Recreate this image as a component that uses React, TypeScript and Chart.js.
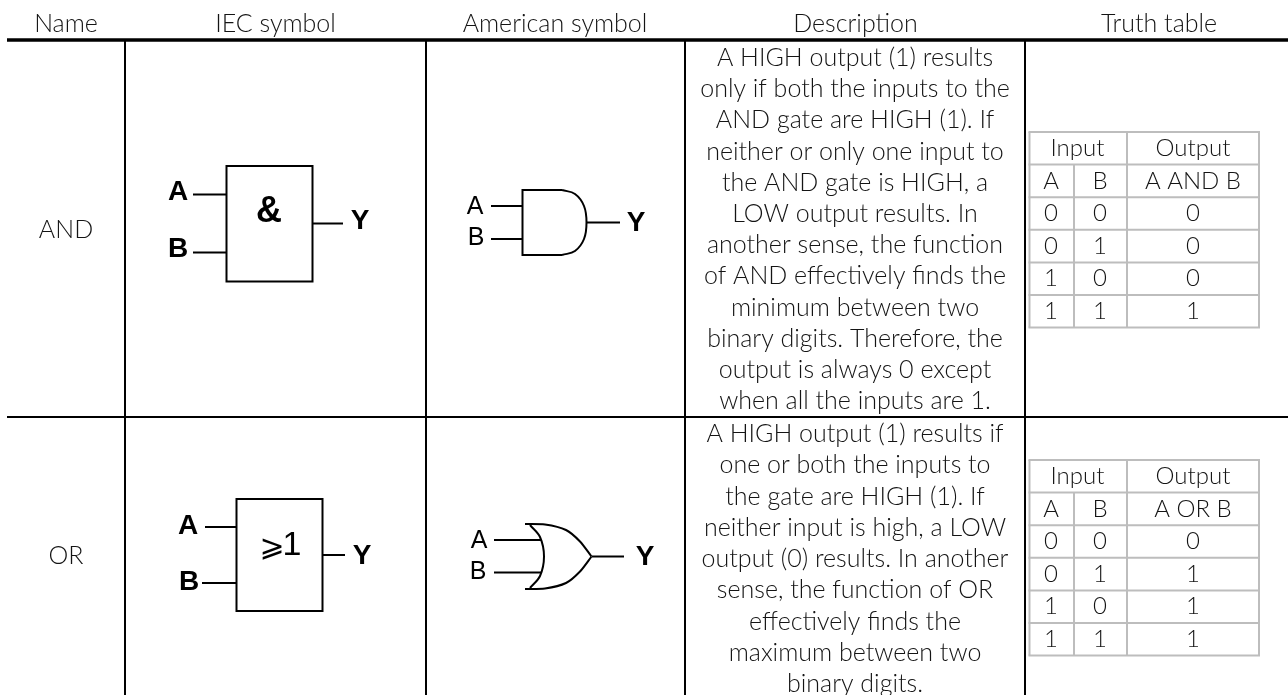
import React, { useEffect, useRef } from "react";
import { Chart, registerables } from "chart.js";

Chart.register(...registerables);

const columnNames = ["Name", "IEC symbol", "American symbol", "Description", "Truth table"];
const gateNames = ["AND", "OR"];
const andDescription = [
  "A HIGH output (1) results",
  "only if both the inputs to the",
  "AND gate are HIGH (1). If",
  "neither or only one input to",
  "the AND gate is HIGH, a",
  "LOW output results. In",
  "another sense, the function",
  "of AND effectively finds the",
  "minimum between two",
  "binary digits. Therefore, the",
  "output is always 0 except",
  "when all the inputs are 1.",
];
const orDescription = [
  "A HIGH output (1) results if",
  "one or both the inputs to",
  "the gate are HIGH (1). If",
  "neither input is high, a LOW",
  "output (0) results. In another",
  "sense, the function of OR",
  "effectively finds the",
  "maximum between two",
  "binary digits.",
];
const inputA = ["0", "0", "1", "1"];
const inputB = ["0", "1", "0", "1"];
const andOutput = ["0", "0", "0", "1"];
const orOutput = ["0", "1", "1", "1"];

const BODY = "Lato";
const INK = "#141414";

type P = { x: number; y: number };
const pts = (...c: number[]): P[] => {
  const out: P[] = [];
  for (let i = 0; i < c.length; i += 2) out.push({ x: c[i], y: c[i + 1] });
  return out;
};
const stroke = (data: P[], color: string, width: number, tension = 0) => ({
  data,
  showLine: true,
  borderColor: color,
  borderWidth: width,
  tension,
  pointRadius: 0,
  borderCapStyle: "butt",
  borderJoinStyle: "miter",
});

const grid = (top: number) => {
  const l = 1029.5, r = 1259, a = 1074, b = 1127, c = "#bdbdbd";
  const rows = [0, 1, 2, 3, 4, 5, 6].map((i) => top + i * 32.6);
  const end = rows[rows.length - 1];
  return [
    ...rows.map((y) => stroke(pts(l - 1, y, r + 1, y), c, 2)),
    stroke(pts(l, top, l, end), c, 2),
    stroke(pts(r, top, r, end), c, 2),
    stroke(pts(b, top, b, end), c, 2),
    stroke(pts(a, rows[1], a, end), c, 2),
  ];
};

const K = "#000";
const datasets = [
  stroke(pts(7, 40, 1288, 40), K, 3.5),
  stroke(pts(7, 417, 1288, 417), K, 2),
  stroke(pts(125, 40, 125, 695), K, 2),
  stroke(pts(426, 40, 426, 695), K, 2),
  stroke(pts(685, 40, 685, 695), K, 2),
  stroke(pts(1025, 40, 1025, 695), K, 2),
  // IEC AND
  stroke(pts(226.5, 166, 312.5, 166, 312.5, 281.5, 226.5, 281.5, 226.5, 165), K, 2),
  stroke(pts(193, 194.5, 226, 194.5), K, 2),
  stroke(pts(193, 252.5, 226, 252.5), K, 2),
  stroke(pts(313, 223.5, 343, 223.5), K, 2),
  // American AND
  stroke(pts(562, 190, 522.5, 190, 522.5, 255, 562, 255), K, 2),
  stroke(pts(562, 190, 575, 194, 584, 206, 586.5, 222.5, 584, 239, 575, 251, 562, 255), K, 2, 0.4),
  stroke(pts(491, 206, 522, 206), K, 2),
  stroke(pts(491, 239, 522, 239), K, 2),
  stroke(pts(587, 222.5, 620, 222.5), K, 2),
  // IEC OR
  stroke(pts(236.5, 499, 322.5, 499, 322.5, 611, 236.5, 611, 236.5, 498), K, 2),
  stroke(pts(205, 527, 236, 527), K, 2),
  stroke(pts(202, 583, 236, 583), K, 2),
  stroke(pts(323, 555, 345, 555), K, 2),
  // American OR
  stroke(pts(525, 524, 545, 524.5, 566, 530, 580, 541.5, 591.5, 556.5), K, 2, 0.25),
  stroke(pts(591.5, 556.5, 580, 571.5, 566, 583, 545, 588.5, 525, 589), K, 2, 0.25),
  stroke(pts(530, 525, 540, 537, 544, 556.5, 540, 576, 530, 588), K, 2, 0.35),
  stroke(pts(494, 540, 541, 540), K, 2),
  stroke(pts(494, 572.5, 541, 572.5), K, 2),
  stroke(pts(592, 556.5, 624, 556.5), K, 2),
  ...grid(132),
  ...grid(460),
];

const tablePlugin = {
  id: "tableText",
  afterDatasetsDraw(chart: any) {
    const { ctx, scales } = chart;
    const put = (t: string, x: number, y: number, font: string, color = INK) => {
      ctx.font = font;
      ctx.fillStyle = color;
      ctx.fillText(t, scales.x.getPixelForValue(x), scales.y.getPixelForValue(y));
    };
    ctx.save();
    ctx.textAlign = "center";
    ctx.textBaseline = "middle";
    const body = `300 25px ${BODY}`;
    const cell = `300 24px ${BODY}`;
    [66, 275.5, 555, 855.5, 1159].forEach((x, i) => put(columnNames[i], x, 24, body));
    put(gateNames[0], 66, 230, body);
    put(gateNames[1], 66, 556, body);
    andDescription.forEach((t, i) => put(t, 855, 58 + i * 31.2, body));
    orDescription.forEach((t, i) => put(t, 855, 434 + i * 31.25, body));
    const table = (top: number, out: string[], title: string) => {
      const row = (i: number) => top + 16.3 + i * 32.6;
      put("Input", 1077.5, row(0), cell);
      put("Output", 1193, row(0), cell);
      put("A", 1051, row(1), cell);
      put("B", 1100, row(1), cell);
      put(title, 1193, row(1), cell);
      inputA.forEach((v, i) => {
        put(v, 1051, row(i + 2), cell);
        put(inputB[i], 1100, row(i + 2), cell);
        put(out[i], 1193, row(i + 2), cell);
      });
    };
    table(132, andOutput, "A AND B");
    table(460, orOutput, "A OR B");
    const bold = "bold 28px 'Liberation Sans'";
    const thin = "25px 'Liberation Sans'";
    put("A", 178, 192, bold, K);
    put("B", 178, 249, bold, K);
    put("Y", 360, 221, bold, K);
    put("&", 269, 212, "bold 36px 'Liberation Sans'", K);
    put("A", 475, 207, thin, K);
    put("B", 476, 238, thin, K);
    put("Y", 636, 223, bold, K);
    put("A", 188, 526, bold, K);
    put("B", 189, 582, bold, K);
    put("Y", 362, 556, bold, K);
    put("⩾", 272, 548, "30px 'DejaVu Sans'", K);
    put("1", 292, 546, "34px 'Liberation Sans'", K);
    put("A", 479, 541, thin, K);
    put("B", 478, 572, thin, K);
    put("Y", 645, 557, bold, K);
    ctx.restore();
  },
};

export default function App() {
  const ref = useRef<HTMLCanvasElement>(null);
  useEffect(() => {
    const chart = new Chart(ref.current!, {
      type: "scatter",
      data: { datasets: datasets as any },
      plugins: [tablePlugin],
      options: {
        animation: false,
        responsive: false,
        layout: { padding: 0 },
        plugins: { legend: { display: false }, tooltip: { enabled: false }, title: { display: false } },
        scales: {
          x: { type: "linear", min: 0, max: 1288, display: false },
          y: { type: "linear", min: 0, max: 695, reverse: true, display: false },
        },
      },
    } as any);
    return () => chart.destroy();
  }, []);
  return (
    <canvas
      ref={ref}
      width={1288}
      height={695}
      style={{ position: "fixed", left: 0, top: 0, width: 1288, height: 695, display: "block", background: "#fff" }}
    />
  );
}
